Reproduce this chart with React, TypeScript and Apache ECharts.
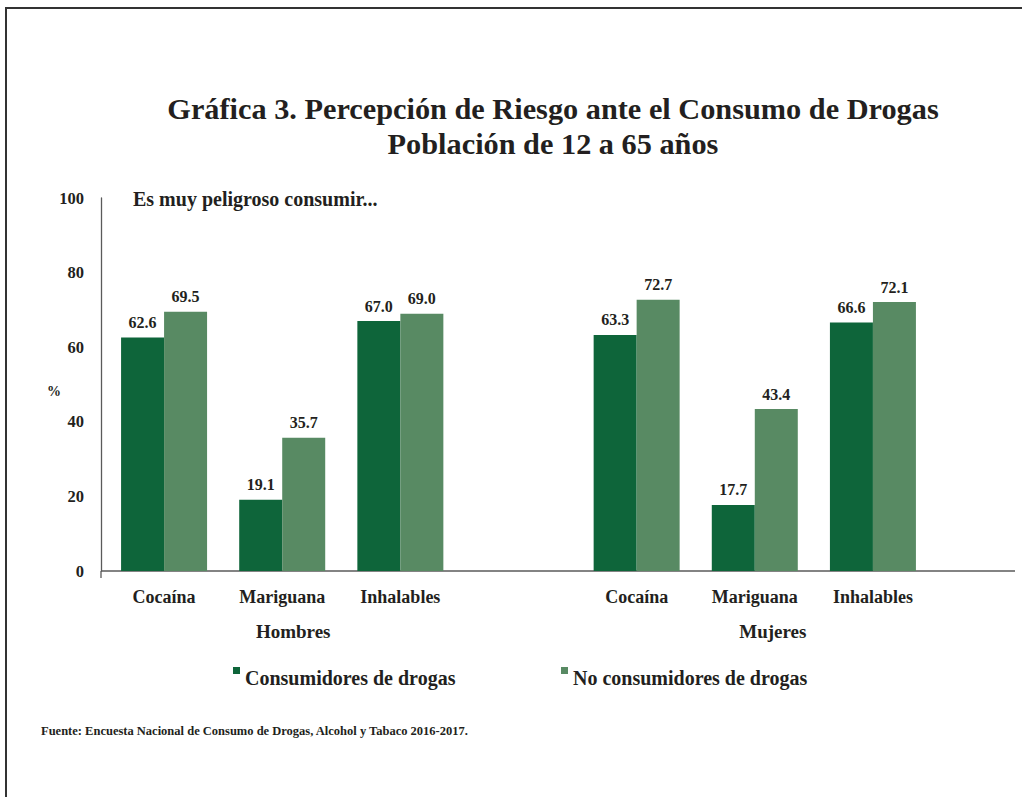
import React, { useEffect, useRef } from "react";
import * as echarts from "echarts";

const drugs = ["Cocaína", "Mariguana", "Inhalables"];
const groups = ["Hombres", "Mujeres"];
const hombresConsumidores = [62.6, 19.1, 67.0];
const hombresNoConsumidores = [69.5, 35.7, 69.0];
const mujeresConsumidores = [63.3, 17.7, 66.6];
const mujeresNoConsumidores = [72.7, 43.4, 72.1];
const seriesNames = ["Consumidores de drogas", "No consumidores de drogas"];
const yMin = 0;
const yMax = 100;
const yStep = 20;

const titleText = "Gráfica 3. Percepción de Riesgo ante el Consumo de Drogas\nPoblación de 12 a 65 años";
const subtitleText = "Es muy peligroso consumir...";
const sourceText = "Fuente: Encuesta Nacional de Consumo de Drogas, Alcohol y Tabaco 2016-2017.";

const FONT = '"Liberation Serif", "DejaVu Serif", serif';
const INK = "#231F20";
const DARK = "#0E653A";
const LIGHT = "#588A63";
const AXIS = "#5a5a5a";

const categories = [
  ...drugs.map((d) => groups[0] + "·" + d),
  "sep",
  ...drugs.map((d) => groups[1] + "·" + d),
];

export default function App() {
  const ref = useRef<HTMLDivElement>(null);

  useEffect(() => {
    if (!ref.current) return;
    const chart = echarts.init(ref.current, undefined, { renderer: "svg" });

    const labelStyle = {
      show: true,
      position: "top" as const,
      distance: 7,
      fontFamily: FONT,
      fontSize: 16,
      fontWeight: "bold" as const,
      color: INK,
      formatter: (p: any) => (p.value == null ? "" : Number(p.value).toFixed(1)),
    };

    const legendText = {
      fontFamily: FONT,
      fontSize: 20,
      fontWeight: "bold" as const,
      color: INK,
      rich: {
        t: {
          fontFamily: FONT,
          fontSize: 20,
          fontWeight: "bold" as const,
          color: INK,
          padding: [15, 0, 0, 0],
        },
      },
    };

    const groupRich = (shift: number) => ({
      fontFamily: FONT,
      fontSize: 19,
      fontWeight: "bold",
      color: INK,
      lineHeight: 35,
      padding: [0, 0, 0, shift],
    });

    chart.setOption({
      animation: false,
      backgroundColor: "#ffffff",
      title: [
        {
          text: titleText,
          left: 548,
          top: 86,
          textAlign: "center",
          textStyle: {
            fontFamily: FONT,
            fontSize: 30.3,
            fontWeight: "bold",
            color: INK,
            lineHeight: 35,
          },
        },
        {
          text: subtitleText,
          left: 128,
          top: 184,
          textStyle: { fontFamily: FONT, fontSize: 20, fontWeight: "bold", color: INK },
        },
        {
          text: sourceText,
          left: 36,
          top: 719,
          textStyle: { fontFamily: FONT, fontSize: 12.5, fontWeight: "bold", color: INK },
        },
      ],
      legend: [
        {
          data: [seriesNames[0]],
          left: 228,
          top: 662,
          icon: "rect",
          itemWidth: 7,
          itemHeight: 7,
          formatter: (n: string) => "{t|" + n + "}",
          textStyle: legendText,
          selectedMode: false,
        },
        {
          data: [seriesNames[1]],
          left: 556,
          top: 662,
          icon: "rect",
          itemWidth: 7,
          itemHeight: 7,
          formatter: (n: string) => "{t|" + n + "}",
          textStyle: legendText,
          selectedMode: false,
        },
      ],
      grid: { left: 105, width: 827, top: 198, height: 373, containLabel: false },
      xAxis: {
        type: "category",
        data: categories,
        axisLine: { show: false },
        axisTick: { show: false },
        axisLabel: {
          interval: 0,
          margin: 8,
          fontFamily: FONT,
          fontSize: 18,
          fontWeight: "bold",
          color: INK,
          lineHeight: 35,
          formatter: (value: string, index: number) => {
            const name = value.split("·")[1] ?? "";
            if (index === 1) return name + "\n{h|" + groups[0] + "}";
            if (index === 5) return name + "\n{m|" + groups[1] + "}";
            return name;
          },
          rich: {
            h: groupRich(22),
            m: groupRich(36),
          },
        },
      },
      yAxis: {
        type: "value",
        min: yMin,
        max: yMax,
        interval: yStep,
        offset: 4,
        axisLine: { show: true, lineStyle: { color: AXIS, width: 1.3 } },
        axisTick: { show: false },
        splitLine: { show: false },
        axisLabel: {
          margin: 17,
          fontFamily: FONT,
          fontSize: 16.5,
          fontWeight: "bold",
          color: INK,
        },
        name: "%",
        nameLocation: "middle",
        nameRotate: 0,
        nameGap: 40,
        nameMoveOverlap: false,
        nameTextStyle: {
          fontFamily: FONT,
          fontSize: 14,
          fontWeight: "bold",
          color: INK,
          verticalAlign: "top",
        },
      },
      series: [
        {
          name: seriesNames[0],
          type: "bar",
          barWidth: 43,
          barGap: "0%",
          itemStyle: { color: DARK },
          label: labelStyle,
          data: [...hombresConsumidores, null, ...mujeresConsumidores],
        },
        {
          name: seriesNames[1],
          type: "bar",
          barWidth: 43,
          barGap: "0%",
          itemStyle: { color: LIGHT },
          label: labelStyle,
          data: [...hombresNoConsumidores, null, ...mujeresNoConsumidores],
        },
      ],
    });

    const y0 = chart.convertToPixel({ yAxisIndex: 0 }, 0) as number;
    const gridLeft = (chart.convertToPixel({ xAxisIndex: 0 }, 0) as number) - 827 / 7 / 2;
    const axisX = gridLeft - 4;

    chart.setOption({
      graphic: [
        {
          type: "line",
          shape: { x1: axisX, y1: y0, x2: 1015, y2: y0 },
          style: { stroke: AXIS, lineWidth: 1.5 },
          silent: true,
        },
        {
          type: "line",
          shape: { x1: axisX, y1: y0, x2: axisX, y2: y0 + 7 },
          style: { stroke: AXIS, lineWidth: 1.3 },
          silent: true,
        },
        {
          type: "line",
          shape: { x1: 5, y1: 8, x2: 1022, y2: 8 },
          style: { stroke: "#333333", lineWidth: 2 },
          silent: true,
        },
        {
          type: "line",
          shape: { x1: 6, y1: 7, x2: 6, y2: 797 },
          style: { stroke: "#333333", lineWidth: 2 },
          silent: true,
        },
      ],
    });

    return () => chart.dispose();
  }, []);

  return (
    <div
      ref={ref}
      style={{ position: "fixed", left: 0, top: 0, width: 1022, height: 797, background: "#fff" }}
    />
  );
}
